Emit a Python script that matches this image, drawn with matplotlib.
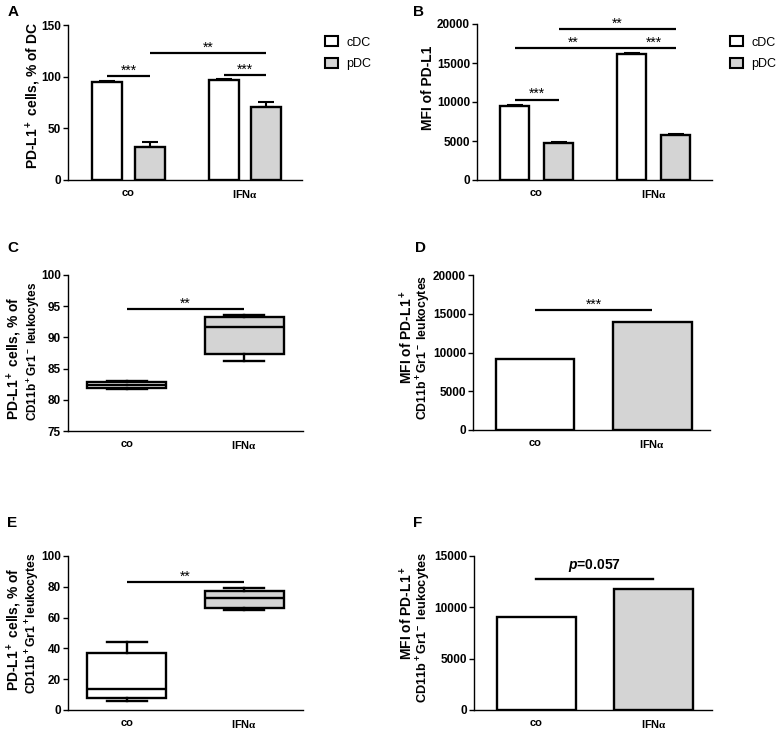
import matplotlib
matplotlib.use("Agg")
import matplotlib.pyplot as plt
from matplotlib.patches import Patch
import numpy as np

# ----- rc settings -----
plt.rcParams.update({
    "font.family": "Liberation Sans",
    "font.size": 8.5,
    "font.weight": "bold",
    "axes.labelweight": "bold",
    "axes.linewidth": 1.0,
    "xtick.major.width": 1.0,
    "ytick.major.width": 1.0,
    "xtick.major.size": 0,
    "ytick.major.size": 3.5,
    "ytick.major.pad": 1.5,
    "xtick.major.pad": 6,
    "xtick.labelsize": 8,
    "ytick.labelsize": 8.5,
    "mathtext.fontset": "custom",
    "mathtext.rm": "Liberation Serif",
    "mathtext.bf": "Liberation Sans:bold",
    "mathtext.it": "Liberation Sans:italic:bold",
    "mathtext.default": "bf",
})

groups = ["co", "IFN$\\mathrm{\\alpha}$"]
grey = "#d4d4d4"

# A: PD-L1+ cells, % of DC
A_cdc = [94.5, 97.2]
A_cdc_err = [1.5, 1.0]
A_pdc = [31.5, 70.2]
A_pdc_err = [4.8, 5.6]

# B: MFI of PD-L1
B_cdc = [9500, 16100]
B_cdc_err = [140, 220]
B_pdc = [4700, 5750]
B_pdc_err = [130, 180]

# C: box stats (min, q1, median, q3, max)
C_co = [81.75, 81.9, 82.3, 82.9, 83.0]
C_ifn = [86.2, 87.4, 91.6, 93.2, 93.6]

# D: MFI
D_vals = [9100, 14000]

# E: box stats
E_co = [5.6, 7.5, 13.6, 37.0, 44.3]
E_ifn = [65.2, 66.5, 72.8, 77.5, 79.0]

# F: MFI
F_vals = [9050, 11800]

W, H = 780, 730
fig = plt.figure(figsize=(W / 100, H / 100), dpi=100)


def add_ax(x0, y0, x1, y1):
    ax = fig.add_axes([x0 / W, 1 - y1 / H, (x1 - x0) / W, (y1 - y0) / H])
    ax.spines["top"].set_visible(False)
    ax.spines["right"].set_visible(False)
    return ax


def vlabel(text, x, y, size):
    # rotated y label placed in figure pixels
    fig.text(x / W, 1 - y / H, text, rotation=90, ha="center", va="center",
             fontsize=size, fontweight="bold")


def sig(ax, xa, xb, y, label, dy=4, size=10):
    ax.plot([xa, xb], [y, y], color="black", lw=1.6, clip_on=False,
            solid_capstyle="butt")
    ax.annotate(label, ((xa + xb) / 2, y), xytext=(0, dy),
                textcoords="offset points", ha="center", va="center",
                fontsize=size, fontweight="normal", annotation_clip=False)


def grouped(ax, cdc, cdc_err, pdc, pdc_err, off, bw):
    g = np.arange(len(groups))
    ax.bar(g - off, cdc, bw, color="white", edgecolor="black", lw=1.7, zorder=3)
    ax.bar(g + off, pdc, bw, color=grey, edgecolor="black", lw=1.7, zorder=3)
    ax.errorbar(g - off, cdc, yerr=[np.zeros(2), cdc_err], fmt="none",
                ecolor="black", elinewidth=1.5, capsize=5.5, capthick=1.5, zorder=2)
    ax.errorbar(g + off, pdc, yerr=[np.zeros(2), pdc_err], fmt="none",
                ecolor="black", elinewidth=1.5, capsize=5.5, capthick=1.5, zorder=2)
    ax.set_xticks(g)
    ax.set_xticklabels(groups)


def boxes(ax, co, ifn, bw):
    stats = []
    for s in (co, ifn):
        stats.append(dict(whislo=s[0], q1=s[1], med=s[2], q3=s[3], whishi=s[4]))
    bp = ax.bxp(stats, positions=[0, 1], widths=bw, patch_artist=True,
                showfliers=False, capwidths=bw * 0.5,
                boxprops=dict(lw=1.7, edgecolor="black"),
                medianprops=dict(color="black", lw=1.7),
                whiskerprops=dict(lw=1.7), capprops=dict(lw=1.7))
    bp["boxes"][0].set_facecolor("white")
    bp["boxes"][1].set_facecolor(grey)
    ax.set_xticks([0, 1])
    ax.set_xticklabels(groups)


def legend(x, y):
    handles = [Patch(facecolor="white", edgecolor="black", lw=1.5, label="cDC"),
               Patch(facecolor=grey, edgecolor="black", lw=1.5, label="pDC")]
    fig.legend(handles=handles, loc="upper left", bbox_to_anchor=(x / W, 1 - y / H),
               frameon=False, prop=dict(size=9, weight="normal"),
               handlelength=1.0, handleheight=0.85, handletextpad=0.7,
               labelspacing=0.75, borderpad=0)


# ---- A ----
axA = add_ax(68, 25, 302, 180)
grouped(axA, A_cdc, A_cdc_err, A_pdc, A_pdc_err, 0.184, 0.2575)
axA.set_xlim(-0.519, 1.489)
axA.set_ylim(0, 150)
axA.set_yticks([0, 50, 100, 150])
vlabel("PD-L1$^+$ cells, % of DC", 33, 95, 10)
sig(axA, -0.184, 0.184, 100.7, "***")
sig(axA, 1 - 0.184, 1 + 0.184, 101.7, "***")
sig(axA, 0.184, 1 + 0.184, 122.6, "**")
legend(319, 30)

# ---- B ----
axB = add_ax(477, 24, 712, 180)
grouped(axB, B_cdc, B_cdc_err, B_pdc, B_pdc_err, 0.188, 0.248)
axB.set_xlim(-0.509, 1.5)
axB.set_ylim(0, 20000)
axB.set_yticks([0, 5000, 10000, 15000, 20000])
vlabel("MFI of PD-L1", 428, 88, 10)
sig(axB, -0.188, 0.188, 10300, "***")
sig(axB, -0.188, 1 - 0.188, 16900, "**")
sig(axB, 1 - 0.188, 1 + 0.188, 16900, "***")
sig(axB, 0.188, 1 + 0.188, 19300, "**")
legend(724, 30)

# ---- C ----
axC = add_ax(68, 275, 303, 431)
boxes(axC, C_co, C_ifn, 0.675)
axC.set_xlim(-0.504, 1.504)
axC.set_ylim(75, 100)
axC.set_yticks([75, 80, 85, 90, 95, 100])
vlabel("PD-L1$^+$ cells, % of", 14, 358, 10)
vlabel("CD11b$^+$Gr1$^-$ leukocytes", 33, 351, 8.5)
sig(axC, 0, 1, 94.5, "**")

# ---- D ----
axD = add_ax(473, 275, 710, 430)
axD.bar([0, 1], D_vals, 0.665, color=["white", grey], edgecolor="black", lw=1.7)
axD.set_xticks([0, 1])
axD.set_xticklabels(groups)
axD.set_xlim(-0.528, 1.49)
axD.set_ylim(0, 20000)
axD.set_yticks([0, 5000, 10000, 15000, 20000])
vlabel("MFI of PD-L1$^+$", 407, 337, 10)
vlabel("CD11b$^+$Gr1$^-$ leukocytes", 424, 347, 8.8)
sig(axD, 0, 1, 15500, "***")

# ---- E ----
axE = add_ax(68, 556, 303, 710)
boxes(axE, E_co, E_ifn, 0.675)
axE.set_xlim(-0.504, 1.504)
axE.set_ylim(0, 100)
axE.set_yticks([0, 20, 40, 60, 80, 100])
vlabel("PD-L1$^+$ cells, % of", 14, 629, 10)
vlabel("CD11b$^+$Gr1$^+$leukocytes", 33, 623, 8.8)
sig(axE, 0, 1, 82.9, "**")

# ---- F ----
axF = add_ax(474, 556, 712, 710)
axF.bar([0, 1], F_vals, 0.67, color=["white", grey], edgecolor="black", lw=1.7)
axF.set_xticks([0, 1])
axF.set_xticklabels(groups)
axF.set_xlim(-0.534, 1.5)
axF.set_ylim(0, 15000)
axF.set_yticks([0, 5000, 10000, 15000])
vlabel("MFI of PD-L1$^+$", 407, 613, 10)
vlabel("CD11b$^+$Gr1$^-$ leukocytes", 424, 627, 9.2)
axF.plot([0, 1], [12800, 12800], color="black", lw=1.7, clip_on=False)
axF.annotate("$\\it{p}$=0.057", (0.5, 12800), xytext=(0, 3), textcoords="offset points",
             ha="center", va="bottom", fontsize=10, annotation_clip=False)

# panel letters
for lab, x, y in [("A", 8, 12), ("B", 413, 12), ("C", 7, 248),
                  ("D", 415, 248), ("E", 7, 523), ("F", 413, 523)]:
    fig.text(x / W, 1 - y / H, lab, fontsize=11, fontweight="bold",
             ha="left", va="center")

fig.savefig("out.png", dpi=100)
